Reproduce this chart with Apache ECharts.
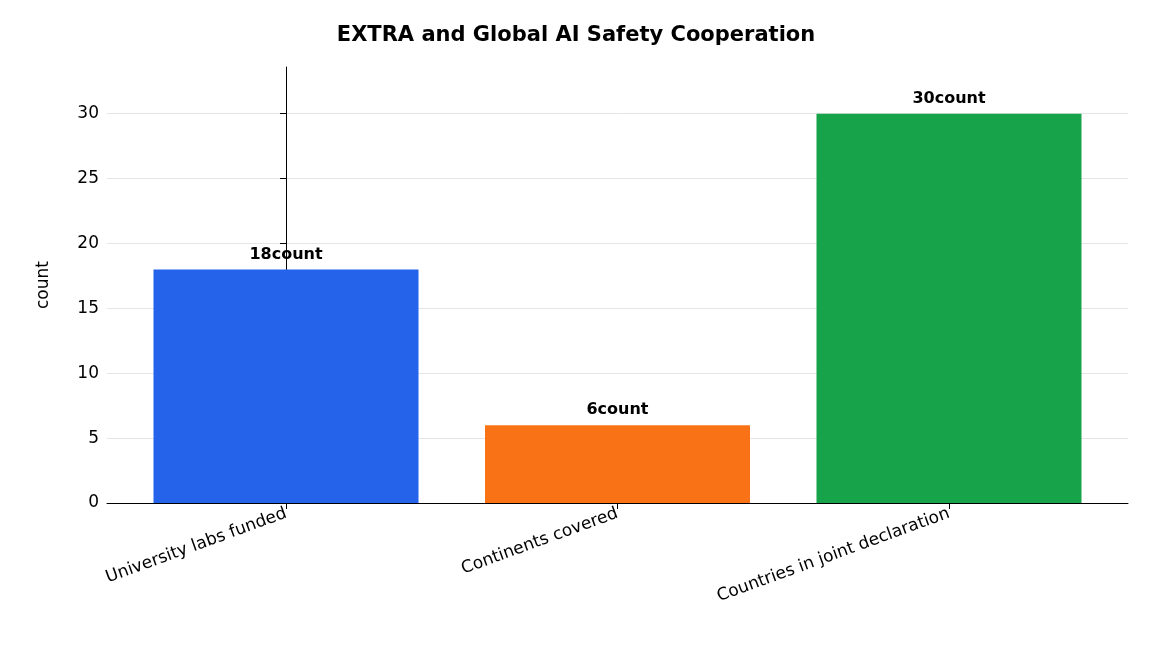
<!DOCTYPE html>
<html><head><meta charset="utf-8">
<script src="https://cdn.jsdelivr.net/npm/echarts@6/dist/echarts.min.js"></script>
<style>html,body{margin:0;padding:0;background:#fff}#c{width:1152px;height:672px}</style>
</head><body><div id="c"></div>
<script>
const categories = ["University labs funded", "Continents covered", "Countries in joint declaration"];
const values = [18, 6, 30];
const colors = ["#2563eb", "#f97316", "#16a34a"];
const yTicks = [0, 5, 10, 15, 20, 25, 30];
const chart = echarts.init(document.getElementById('c'));
chart.setOption({
  animation: false,
  title: { text: "EXTRA and Global AI Safety Cooperation", left: 'center', top: 20,
    textStyle: { fontFamily: 'DejaVu Sans', fontSize: 21, fontWeight: 'bold', color: '#000' } },
  grid: { left: 107, right: 24, top: 67, bottom: 169 },
  xAxis: { type: 'value', min: -0.54, max: 2.54,
    splitLine: { show: false },
    axisLine: { show: true, onZero: false, lineStyle: { color: '#000' } },
    axisTick: { show: true, customValues: [0, 1, 2], lineStyle: { color: '#000' }, length: 6 },
    axisLabel: { customValues: [0, 1, 2], rotate: 20, fontFamily: 'DejaVu Sans', fontSize: 17, color: '#000', margin: 10,
      formatter: v => categories[Math.round(v)] } },
  yAxis: { type: 'value', min: 0, max: 33.6, interval: 5, name: 'count', nameLocation: 'middle', nameGap: 55,
    nameTextStyle: { fontFamily: 'DejaVu Sans', fontSize: 17, color: '#000' },
    axisLine: { show: true, lineStyle: { color: '#000' } },
    axisTick: { show: true, length: 6, lineStyle: { color: '#000' } },
    axisLabel: { fontFamily: 'DejaVu Sans', fontSize: 17, color: '#000', showMaxLabel: false,
      formatter: v => yTicks.includes(v) ? String(v) : '' },
    splitLine: { lineStyle: { color: '#e5e5e5' }, showMaxLine: false } },
  series: [{ type: 'bar', barWidth: 265,
    data: values.map((v, i) => ({ value: [i, v], itemStyle: { color: colors[i] } })),
    label: { show: true, position: 'top', distance: 7, formatter: p => p.value[1] + 'count',
      fontFamily: 'DejaVu Sans', fontSize: 16, fontWeight: 'bold', color: '#000' } }]
});
</script></body></html>
